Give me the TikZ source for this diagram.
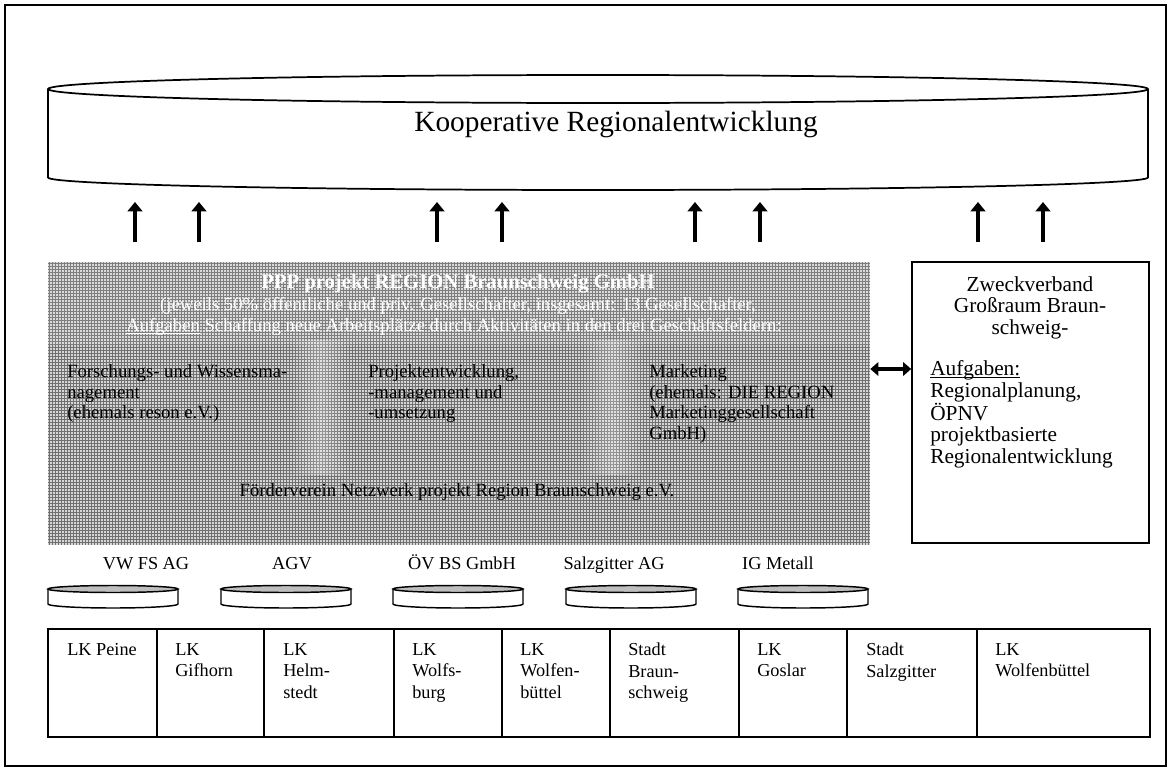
\documentclass[tikz,border=0pt]{standalone}
\usepackage{fontspec}
\setmainfont{Liberation Serif}
\usetikzlibrary{arrows.meta,fit,fadings}
\definecolor{meshlight}{RGB}{214,214,214}
\definecolor{meshdark}{RGB}{112,112,112}
\definecolor{discshade}{RGB}{190,190,190}
\newcommand{\myul}[1]{\setbox0\hbox{#1}\leavevmode\rlap{\rule[-1.7pt]{\wd0}{0.6pt}}\box0\relax}
\tikzfading[name=bandfade, left color=transparent!100, right color=transparent!100, middle color=transparent!72]
\tikzset{
  outline/.style={draw=black, line width=1.2pt},
  upar/.style={line width=3pt, -{Triangle[width=11pt,length=7pt]}},
  dblar/.style={line width=2.6pt, {Triangle[width=10pt,length=6pt]}-{Triangle[width=10pt,length=6pt]}},
  wtext/.style={text=white, inner sep=0pt, font=\fontsize{14}{16}\selectfont},
  gtext/.style={inner sep=0pt, anchor=north west, align=left, font=\fontsize{14}{15.6}\selectfont},
  rtext/.style={inner sep=0pt, font=\fontsize{16}{16.3}\selectfont},
  celltext/.style={inner sep=0pt, anchor=north west, align=left, font=\fontsize{13.7}{16.1}\selectfont},
  lbl/.style={inner sep=0pt, anchor=base, font=\fontsize{13.7}{16}\selectfont},
}
\begin{document}
\begin{tikzpicture}[x=0.75pt,y=-0.75pt]
\useasboundingbox (0,0) rectangle (1171,771);
% outer frame
\draw[line width=1.5pt] (5,5) rectangle (1166,766);

% big cylinder
\draw[line width=1.3pt] (598,89) ellipse [x radius=550, y radius=14];
\draw[line width=1.3pt] (48,89) -- (48,177.5) arc[start angle=180, end angle=0, x radius=550, y radius=12.5] -- (1148,89);
\node[font=\fontsize{22}{26}\selectfont, inner sep=0pt] (koop) at (616,124) {Kooperative Regionalentwicklung};

% gray PPP box (mesh)
\fill[meshlight] (48,262) rectangle (870,545);
\foreach \x in {49.5,52.5,...,869} \draw[meshdark, line width=0.7pt] (\x,262) -- (\x,545);
\foreach \y in {263.5,266.5,...,544} \draw[meshdark, line width=0.7pt] (48,\y) -- (870,\y);
\fill[white, opacity=0.10] (48,262) rectangle (870,345);
\fill[white, path fading=bandfade] (290,340) rectangle (350,475);
\fill[white, path fading=bandfade] (580,340) rectangle (645,475);
\node[fit={(48,262) (870,545)}, inner sep=0pt] (ppp) {};

\node[wtext, font=\bfseries\fontsize{15.5}{18}\selectfont] (ppptitle) at (458,284) {PPP projekt REGION Braunschweig GmbH};
\node[wtext] (pppsub) at (458,306) {(jeweils 50\% öffentliche und priv. Gesellschafter, insgesamt: 13 Gesellschafter,};
\node[wtext] (pppaufg) at (454,327) {\myul{Aufgaben} Schaffung neue Arbeitsplätze durch Aktivitäten in den drei Geschäftsfeldern:};
\node[gtext] (feld1) at (67,364) {Forschungs- und Wissensma-\\nagement\\(ehemals reson e.V.)};
\node[gtext] (feld2) at (368,364) {Projektentwicklung,\\-management und\\-umsetzung};
\node[gtext] (feld3) at (649,364) {Marketing\\(ehemals: DIE REGION\\Marketinggesellschaft\\GmbH)};
\node[inner sep=0pt, font=\fontsize{14}{16}\selectfont] (foerder) at (457,492) {Förderverein Netzwerk projekt Region Braunschweig e.V.};

% right box
\node[outline, fit={(912,262) (1149,543)}, inner sep=0pt] (zv) {};
\node[rtext, anchor=north, align=center] (zvtitle) at (1030,276) {Zweckverband\\Großraum Braun-\\schweig-};
\node[rtext, anchor=north west, align=left] (zvaufg) at (930,360) {\myul{Aufgaben:}\\Regionalplanung,\\ÖPNV\\projektbasierte\\Regionalentwicklung};

% double arrow
\coordinate (yref) at (0,369);
\draw[dblar] (ppp.east |- yref) -- (zv.west |- yref);

% up arrows
\foreach \ax [count=\i] in {135,199,437,502,695,760,978,1043} {
  \coordinate (as\i) at (\ax,242);
  \coordinate (ae\i) at (\ax,202);
  \draw[upar] (as\i) -- (ae\i);
}

% shareholders labels
\node[lbl] (vw) at (146,569) {VW FS AG};
\node[lbl] (agv) at (292,569) {AGV};
\node[lbl] (oev) at (462,569) {ÖV BS GmbH};
\node[lbl] (salz) at (614,569) {Salzgitter AG};
\node[lbl] (igm) at (778,569) {IG Metall};

% discs
\foreach \cx in {113,286,458,631,803} {
  \fill[discshade] (\cx,589) ellipse [x radius=65, y radius=3.5];
  \draw[line width=1.1pt] (\cx,589) ellipse [x radius=65, y radius=3.5];
  \draw[line width=1.1pt] (\cx-65,589) -- (\cx-65,604) arc[start angle=180, end angle=0, x radius=65, y radius=4] -- (\cx+65,589);
}

% table
\node[outline, fit={(48,629) (157,737)}, inner sep=0pt] (c1) {};
\node[outline, fit={(157,629) (264,737)}, inner sep=0pt] (c2) {};
\node[outline, fit={(264,629) (394,737)}, inner sep=0pt] (c3) {};
\node[outline, fit={(394,629) (502,737)}, inner sep=0pt] (c4) {};
\node[outline, fit={(502,629) (610,737)}, inner sep=0pt] (c5) {};
\node[outline, fit={(610,629) (739,737)}, inner sep=0pt] (c6) {};
\node[outline, fit={(739,629) (847,737)}, inner sep=0pt] (c7) {};
\node[outline, fit={(847,629) (977,737)}, inner sep=0pt] (c8) {};
\node[outline, fit={(977,629) (1150,737)}, inner sep=0pt] (c9) {};

\node[celltext] (t1) at (67,643) {LK Peine};
\node[celltext] (t2) at (175,643) {LK\\Gifhorn};
\node[celltext] (t3) at (283,643) {LK\\Helm-\\stedt};
\node[celltext] (t4) at (412,643) {LK\\Wolfs-\\burg};
\node[celltext] (t5) at (520,643) {LK\\Wolfen-\\büttel};
\node[celltext] (t6) at (628,643) {Stadt\\Braun-\\schweig};
\node[celltext] (t7) at (757,643) {LK\\Goslar};
\node[celltext] (t8) at (866,643) {Stadt\\Salzgitter};
\node[celltext] (t9) at (995,643) {LK\\Wolfenbüttel};
\end{tikzpicture}
\end{document}
